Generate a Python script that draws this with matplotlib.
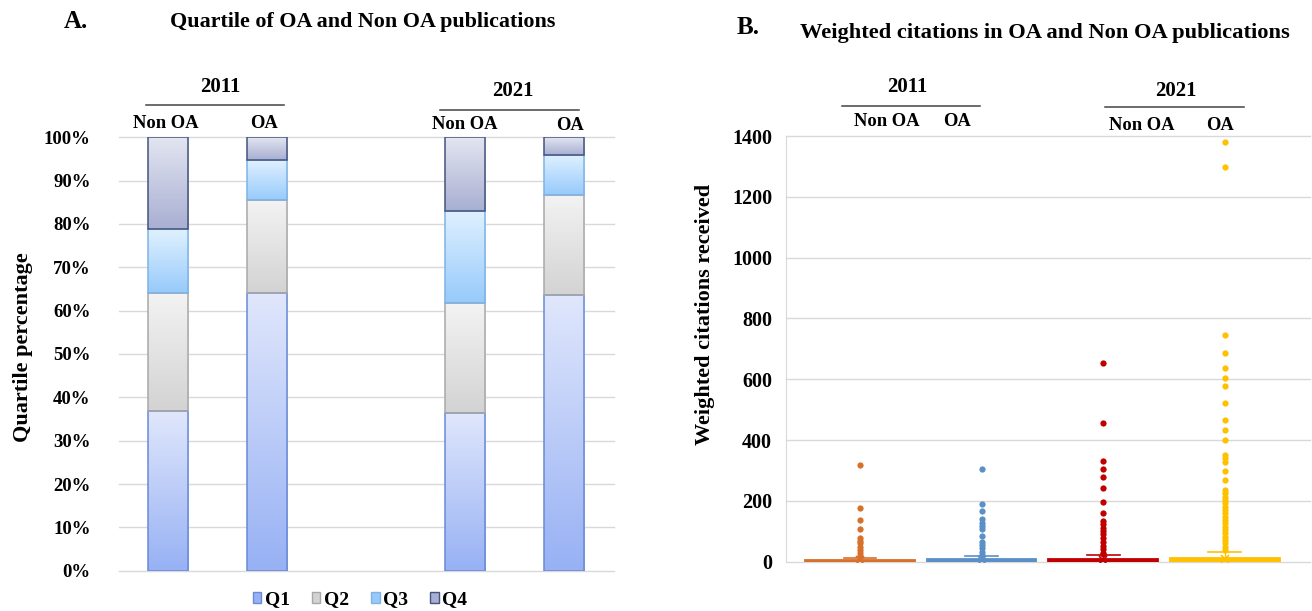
import matplotlib.pyplot as plt
import numpy as np
from matplotlib.colors import LinearSegmentedColormap
from matplotlib.patches import Patch

plt.rcParams['font.family'] = ['Liberation Serif', 'DejaVu Serif']
plt.rcParams['font.weight'] = 'bold'

# ---- data: panel A (quartile shares, %) ----
groups = ['Non OA', 'OA', '', 'Non OA', 'OA']
years = ['2011', '2021']
q1 = [36.8, 64.1, 0, 36.5, 63.5]
q2 = [27.3, 21.4, 0, 25.2, 23.1]
q3 = [14.7, 9.2, 0, 21.3, 9.4]
q4 = [21.2, 5.3, 0, 17.0, 4.0]
quartiles = ['Q1', 'Q2', 'Q3', 'Q4']
pct_ticks = [0, 10, 20, 30, 40, 50, 60, 70, 80, 90, 100]

# ---- data: panel B (weighted citations, box stats + outliers) ----
box_names = ['Non OA 2011', 'OA 2011', 'Non OA 2021', 'OA 2021']
box_q1 = [0, 0, 0, 0]
box_med = [1, 2, 2, 3]
box_q3 = [6, 9, 10, 12]
box_whishi = [11, 19, 22, 31]
box_mean = [4, 6, 7, 9]
out_nonoa_2011 = [318, 175, 137, 107, 77, 68, 60, 49, 38, 27, 20, 14]
out_oa_2011 = [304, 190, 167, 139, 126, 117, 107, 86, 66, 55, 44, 31, 22]
out_nonoa_2021 = [652, 457, 332, 304, 279, 243, 196, 160, 134, 123, 112, 101,
                  90, 77, 64, 52, 41, 30, 25]
out_oa_2021 = [1381, 1299, 746, 685, 638, 603, 578, 521, 466, 434, 399, 351, 340,
               327, 299, 268, 236, 225, 214, 203, 192, 181, 170, 159, 148, 137,
               126, 115, 104, 93, 82, 71, 60, 49, 38]
cite_ticks = [0, 200, 400, 600, 800, 1000, 1200, 1400]

W, H = 1312, 611
fig = plt.figure(figsize=(W / 100, H / 100), dpi=100)

def fx(x):
    return x / W

def fy(y):
    return 1 - y / H

# gradient colours (top, bottom) and edges for each quartile
grad = [('#e0e7fc', '#97b1f4'), ('#f3f3f3', '#d3d3d3'),
        ('#e0f1ff', '#97cafb'), ('#e3e5f0', '#a8afd2')]
edges = ['#6a8ad6', '#a8a8a8', '#7fb3e6', '#44547c']

# ================= Panel A =================
axA = fig.add_axes([fx(118.5), fy(570.7), 495 / W, 433.4 / H])
x = np.arange(len(groups))
keep = np.array(q1) > 0
bottom = np.zeros(len(groups))
for vals, (ctop, cbot), ec in zip([q1, q2, q3, q4], grad, edges):
    vals = np.array(vals)
    bars = axA.bar(x[keep], vals[keep], 0.41, bottom=bottom[keep], facecolor='none',
                   edgecolor=ec, linewidth=1.1, zorder=3)
    cmap = LinearSegmentedColormap.from_list('g', [cbot, ctop])
    for b in bars:
        axA.imshow(np.linspace(0, 1, 100).reshape(-1, 1), cmap=cmap, origin='lower',
                   extent=(b.get_x(), b.get_x() + b.get_width(),
                           b.get_y(), b.get_y() + b.get_height()),
                   aspect='auto', zorder=2)
    bottom += vals

axA.set_xlim(-0.5, len(groups) - 0.5)
axA.set_ylim(0, 100)
axA.set_yticks(pct_ticks)
axA.set_yticklabels([f'{t}%' for t in pct_ticks], fontsize=13.5, fontweight='bold')
axA.set_xticks([])
axA.tick_params(axis='y', length=0, pad=20)
for s in axA.spines.values():
    s.set_visible(False)
for t in pct_ticks:
    axA.axhline(t, color='#d9d9d9', linewidth=1, zorder=1, clip_on=False)
axA.set_ylabel('Quartile percentage', fontsize=16, fontweight='bold')
axA.yaxis.set_label_coords(-0.172, 0.515)

fig.text(fx(76), fy(22), 'A.', fontsize=18, fontweight='bold', ha='center', va='center')
fig.text(fx(363), fy(22), 'Quartile of OA and Non OA publications', fontsize=15.8,
         fontweight='bold', ha='center', va='center')

# group headers panel A
fig.text(fx(220), fy(87), years[0], fontsize=15, ha='center', va='center')
fig.text(fx(513), fy(91), years[1], fontsize=15, ha='center', va='center')
fig.add_artist(plt.Line2D([fx(146), fx(284)], [fy(105), fy(105)], color='#444444', lw=1.1))
fig.add_artist(plt.Line2D([fx(440), fx(579)], [fy(109.5), fy(109.5)], color='#444444', lw=1.1))
for gx, gy, lab in [(166, 123, 'Non OA'), (264.5, 123, 'OA'),
                    (464.5, 124.5, 'Non OA'), (570, 126, 'OA')]:
    fig.text(fx(gx), fy(gy), lab, fontsize=13.4, ha='center', va='center')

handles = [Patch(facecolor=c[1], edgecolor=e, linewidth=1) for c, e in zip(grad, edges)]
fig.legend(handles, quartiles, loc='center', bbox_to_anchor=(fx(360), fy(600)),
           ncol=4, frameon=False, prop=dict(size=14, weight='bold'),
           handlelength=0.45, handleheight=0.45, handletextpad=0.2, columnspacing=1.1)

# ================= Panel B =================
colors = ['#d7702b', '#5b8fc7', '#c00000', '#ffc000']
fliers = [out_nonoa_2011, out_oa_2011, out_nonoa_2021, out_oa_2021]
axB = fig.add_axes([fx(786), fy(561.7), 524 / W, 425.7 / H])
for i in range(4):
    st = [dict(label=box_names[i], q1=box_q1[i], med=box_med[i], q3=box_q3[i],
               whislo=0, whishi=box_whishi[i], mean=box_mean[i], fliers=fliers[i])]
    c = colors[i]
    axB.bxp(st, positions=[i], widths=0.9, capwidths=0.27, patch_artist=True,
            showmeans=True,
            boxprops=dict(facecolor=c, edgecolor=c, linewidth=1.3),
            medianprops=dict(color=c, linewidth=1),
            whiskerprops=dict(color=c, linewidth=1),
            capprops=dict(color=c, linewidth=1.2),
            meanprops=dict(marker='x', markeredgecolor=c, markersize=6, markeredgewidth=1.2),
            flierprops=dict(marker='o', markerfacecolor=c, markeredgewidth=0, markersize=4.5),
            zorder=3)

axB.set_xlim(-0.608, 3.70)
axB.set_ylim(0, 1400)
axB.set_yticks(cite_ticks)
axB.set_yticklabels([str(t) for t in cite_ticks], fontsize=14.5, fontweight='bold')
axB.set_xticks([])
axB.tick_params(axis='y', length=0, pad=10)
for s in ['top', 'right', 'bottom']:
    axB.spines[s].set_visible(False)
axB.spines['left'].set_color('#d9d9d9')
for t in cite_ticks:
    axB.axhline(t, color='#d9d9d9', linewidth=1, zorder=1, clip_on=False)
axB.set_ylabel('Weighted citations received', fontsize=16, fontweight='bold')
axB.yaxis.set_label_coords(-0.135, 0.58)

fig.text(fx(748), fy(27), 'B.', fontsize=18, fontweight='bold', ha='center', va='center')
fig.text(fx(1045), fy(33), 'Weighted citations in OA and Non OA publications', fontsize=16.2,
         fontweight='bold', ha='center', va='center')

fig.text(fx(907), fy(87), years[0], fontsize=15, ha='center', va='center')
fig.text(fx(1176), fy(91), years[1], fontsize=15, ha='center', va='center')
fig.add_artist(plt.Line2D([fx(842), fx(980)], [fy(106), fy(106)], color='#444444', lw=1.1))
fig.add_artist(plt.Line2D([fx(1105), fx(1244)], [fy(107), fy(107)], color='#444444', lw=1.1))
for gx, gy, lab in [(887, 122, 'Non OA'), (957, 122, 'OA'),
                    (1142, 125, 'Non OA'), (1220, 126, 'OA')]:
    fig.text(fx(gx), fy(gy), lab, fontsize=13.4, ha='center', va='center')

fig.savefig('out.png', dpi=100)
